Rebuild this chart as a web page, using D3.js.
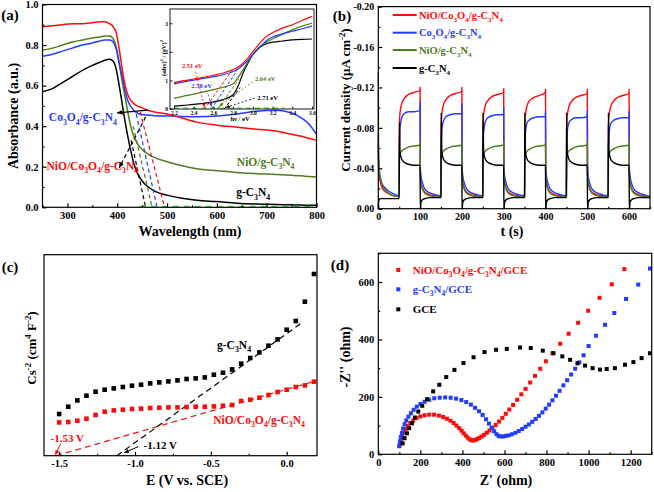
<!DOCTYPE html>
<html><head><meta charset="utf-8">
<script src="https://cdn.jsdelivr.net/npm/d3@7"></script>
<style>body{margin:0;background:#fff}svg{display:block}</style>
</head><body><script>
// ---------- DATA ----------
// (a) UV-vis absorbance
const absWavelength = [250,270,290,310,330,350,365,375,385,392,398,404,410,416,422,428,434,440,450,460,475,500,530,560,600,640,680,720,750,770,785,800];
const absRed   = [0.89,0.895,0.90,0.905,0.905,0.91,0.915,0.915,0.905,0.89,0.86,0.78,0.68,0.60,0.55,0.525,0.51,0.50,0.49,0.48,0.47,0.46,0.44,0.42,0.405,0.395,0.385,0.375,0.36,0.35,0.34,0.33];
const absBlue  = [0.745,0.755,0.77,0.785,0.80,0.81,0.82,0.825,0.825,0.815,0.78,0.71,0.64,0.57,0.52,0.495,0.475,0.465,0.458,0.455,0.452,0.45,0.448,0.447,0.45,0.46,0.474,0.478,0.465,0.44,0.41,0.36];
const absGreen = [0.775,0.785,0.80,0.815,0.825,0.835,0.84,0.845,0.845,0.83,0.79,0.71,0.62,0.54,0.46,0.39,0.345,0.315,0.285,0.265,0.245,0.225,0.205,0.19,0.18,0.172,0.166,0.162,0.158,0.155,0.152,0.15];
const absBlack = [0.57,0.585,0.615,0.645,0.675,0.70,0.715,0.725,0.73,0.72,0.68,0.60,0.51,0.42,0.34,0.27,0.21,0.17,0.13,0.105,0.08,0.06,0.045,0.035,0.028,0.02,0.016,0.014,0.012,0.011,0.01,0.01];
const absTangents = [[[446,0.47],[495,0]],[[438,0.46],[480,0]],[[432,0.40],[470,0]],[[428,0.33],[457,0]]];
const absXTicks = [300,400,500,600,700,800];
const absXMinor = [250,350,450,550,650,750];
const absYTicks = [0,0.2,0.4,0.6,0.8,1.0];
const absYMinor = [0.1,0.3,0.5,0.7,0.9];
// inset Tauc plot
const tauEnergy = [2.2,2.3,2.4,2.5,2.6,2.7,2.8,2.85,2.9,2.95,3.0,3.05,3.1,3.15,3.2,3.3,3.4,3.5,3.6];
const tauRed   = [0.92,0.99,1.05,1.11,1.18,1.26,1.38,1.47,1.6,1.78,2.01,2.22,2.42,2.57,2.67,2.83,2.95,3.1,3.24];
const tauBlue  = [0.88,0.95,1.01,1.07,1.13,1.2,1.31,1.4,1.54,1.7,1.9,2.1,2.27,2.42,2.52,2.63,2.72,2.81,2.9];
const tauGreen = [0.37,0.45,0.52,0.6,0.68,0.76,0.88,1.1,1.37,1.65,1.9,2.1,2.25,2.36,2.45,2.62,2.77,2.9,3.0];
const tauBlack = [0.1,0.13,0.16,0.2,0.25,0.33,0.5,0.8,1.25,1.6,1.9,2.1,2.22,2.3,2.34,2.38,2.42,2.44,2.45];
const bandGaps = [2.51,2.58,2.64,2.71];
const tauTangentTop = [[2.80,1.40],[2.84,1.35],[2.86,1.05],[2.87,0.75]];
const tauXTicks = [2.2,2.4,2.6,2.8,3.0,3.2,3.4,3.6];
const tauYTicks = [0,1,2,3];

// (b) photocurrent
const tSeg0 = [0,0.5,2,5,10,20,35,49.7];
const tCycles = [
 [50,50.5,52,56,62,72,85,99.5,100,100.5,102,106,112,122,135,149.7],
 [150,150.5,152,156,162,172,185,199.5,200,200.5,202,206,212,222,235,249.7],
 [250,250.5,252,256,262,272,285,299.5,300,300.5,302,306,312,322,335,349.7],
 [350,350.5,352,356,362,372,385,399.5,400,400.5,402,406,412,422,435,449.7],
 [450,450.5,452,456,462,472,485,499.5,500,500.5,502,506,512,522,535,549.7],
 [550,550.5,552,556,562,572,585,599.5,600,600.5,602,606,612,622,635,650]];
const jRed = [
 [-0.065,-0.045,-0.034,-0.026,-0.020,-0.016,-0.013,-0.012],
 [-0.012,-0.085,-0.095,-0.104,-0.109,-0.113,-0.115,-0.117,-0.120,-0.036,-0.027,-0.020,-0.016,-0.014,-0.013,-0.012],
 [-0.012,-0.084,-0.094,-0.103,-0.108,-0.112,-0.114,-0.116,-0.120,-0.036,-0.027,-0.020,-0.016,-0.014,-0.013,-0.012],
 [-0.012,-0.083,-0.093,-0.102,-0.107,-0.111,-0.113,-0.115,-0.119,-0.036,-0.027,-0.020,-0.016,-0.014,-0.013,-0.012],
 [-0.012,-0.083,-0.093,-0.102,-0.107,-0.110,-0.112,-0.115,-0.118,-0.036,-0.027,-0.020,-0.016,-0.014,-0.013,-0.012],
 [-0.012,-0.082,-0.092,-0.101,-0.106,-0.110,-0.112,-0.114,-0.118,-0.036,-0.027,-0.020,-0.016,-0.014,-0.013,-0.012],
 [-0.012,-0.082,-0.092,-0.101,-0.106,-0.110,-0.112,-0.114,-0.118,-0.036,-0.027,-0.020,-0.016,-0.014,-0.013,-0.012]];
const jBlue = [
 [-0.075,-0.050,-0.038,-0.030,-0.024,-0.019,-0.015,-0.013],
 [-0.013,-0.062,-0.080,-0.090,-0.094,-0.096,-0.096,-0.097,-0.106,-0.042,-0.033,-0.025,-0.019,-0.016,-0.014,-0.013],
 [-0.013,-0.060,-0.078,-0.087,-0.091,-0.093,-0.094,-0.094,-0.104,-0.042,-0.033,-0.025,-0.019,-0.016,-0.014,-0.013],
 [-0.013,-0.058,-0.076,-0.086,-0.090,-0.092,-0.093,-0.093,-0.100,-0.042,-0.033,-0.025,-0.019,-0.016,-0.014,-0.013],
 [-0.013,-0.057,-0.075,-0.085,-0.088,-0.090,-0.091,-0.091,-0.096,-0.042,-0.033,-0.025,-0.019,-0.016,-0.014,-0.013],
 [-0.013,-0.057,-0.075,-0.085,-0.088,-0.090,-0.090,-0.091,-0.097,-0.042,-0.033,-0.025,-0.019,-0.016,-0.014,-0.013],
 [-0.013,-0.056,-0.074,-0.084,-0.087,-0.089,-0.090,-0.090,-0.096,-0.042,-0.033,-0.025,-0.019,-0.016,-0.014,-0.012]];
const jGreen = [
 [-0.135,-0.060,-0.042,-0.031,-0.023,-0.017,-0.013,-0.012],
 [-0.012,-0.050,-0.054,-0.057,-0.059,-0.061,-0.062,-0.063,-0.066,-0.034,-0.026,-0.019,-0.015,-0.013,-0.012,-0.012],
 [-0.012,-0.050,-0.054,-0.057,-0.059,-0.061,-0.062,-0.063,-0.066,-0.034,-0.026,-0.019,-0.015,-0.013,-0.012,-0.012],
 [-0.012,-0.050,-0.054,-0.057,-0.059,-0.061,-0.062,-0.063,-0.066,-0.034,-0.026,-0.019,-0.015,-0.013,-0.012,-0.012],
 [-0.012,-0.050,-0.054,-0.057,-0.059,-0.061,-0.062,-0.063,-0.066,-0.034,-0.026,-0.019,-0.015,-0.013,-0.012,-0.012],
 [-0.012,-0.050,-0.054,-0.057,-0.059,-0.061,-0.062,-0.063,-0.066,-0.034,-0.026,-0.019,-0.015,-0.013,-0.012,-0.012],
 [-0.012,-0.050,-0.054,-0.057,-0.059,-0.061,-0.062,-0.063,-0.066,-0.034,-0.026,-0.019,-0.015,-0.013,-0.012,-0.012]];
const jBlack = [
 [0.000,-0.006,-0.009,-0.010,-0.010,-0.010,-0.010,-0.010],
 [-0.010,-0.085,-0.055,-0.049,-0.046,-0.044,-0.043,-0.043,-0.043,0.000,-0.006,-0.009,-0.010,-0.011,-0.011,-0.011],
 [-0.011,-0.095,-0.056,-0.049,-0.046,-0.044,-0.043,-0.043,-0.043,0.000,-0.006,-0.009,-0.010,-0.011,-0.011,-0.011],
 [-0.011,-0.095,-0.056,-0.049,-0.046,-0.044,-0.043,-0.043,-0.043,0.000,-0.006,-0.009,-0.010,-0.011,-0.011,-0.011],
 [-0.011,-0.095,-0.056,-0.049,-0.046,-0.044,-0.043,-0.043,-0.043,0.000,-0.006,-0.009,-0.010,-0.011,-0.011,-0.011],
 [-0.011,-0.095,-0.056,-0.049,-0.046,-0.044,-0.043,-0.043,-0.043,0.000,-0.006,-0.009,-0.010,-0.011,-0.011,-0.011],
 [-0.011,-0.095,-0.056,-0.049,-0.046,-0.044,-0.043,-0.043,-0.043,0.000,-0.006,-0.009,-0.010,-0.011,-0.011,-0.011]];
const jLabels = ["NiO/Co_{3}O_{4}/g-C_{3}N_{4}","Co_{3}O_{4}/g-C_{3}N_{4}","NiO/g-C_{3}N_{4}","g-C_{3}N_{4}"];
const jXTicks = [0,100,200,300,400,500,600];
const jXMinor = [50,150,250,350,450,550,650];
const jYTicks = [0,-0.04,-0.08,-0.12,-0.16,-0.20];
const jYMinor = [-0.02,-0.06,-0.10,-0.14,-0.18];

// (c) Mott-Schottky
const msPotential = [-1.50,-1.44,-1.38,-1.32,-1.26,-1.20,-1.14,-1.08,-1.02,-0.96,-0.90,-0.84,-0.78,-0.72,-0.66,-0.60,-0.54,-0.48,-0.42,-0.36,-0.30,-0.24,-0.18,-0.12,-0.06,0.00,0.06,0.12,0.18];
const msBlack = [4.17,4.9,5.53,6.0,6.4,6.6,6.73,6.87,7.0,7.1,7.23,7.33,7.43,7.53,7.67,7.73,7.83,8.1,8.3,8.63,9.2,9.77,10.33,11.0,11.63,12.6,13.47,15.4,18.17];
const msRed   = [3.33,3.37,3.5,3.7,4.07,4.4,4.53,4.6,4.67,4.7,4.77,4.8,4.83,4.83,4.87,4.9,4.9,4.93,5.0,5.07,5.47,5.6,5.8,6.07,6.37,6.6,6.87,7.03,7.4];
const msFitBlack = [[-1.12,0],[0.11,13.4]];
const msFitRed   = [[-1.52,0],[0.19,7.47]];
const msXTicks = [-1.5,-1.0,-0.5,0.0];
const msXMinor = [-1.25,-0.75,-0.25];

// (d) Nyquist
const eisRed = [[100,28],[103,40],[108,52],[114,64],[121,76],[130,88],[140,99],[152,109],[166,118],[182,126],[200,132],[220,136],[242,138],[265,138],[288,135],[308,130],[326,124],[343,117],[358,109],[372,100],[385,91],[396,82],[406,73],[416,65],[425,58],[434,52],[443,49],[452,48],[461,50],[470,53],[480,57],[491,62],[503,68],[516,75],[529,83],[543,92],[558,102],[574,114],[590,127],[606,141],[623,156],[641,172],[660,190],[680,209],[700,228],[722,250],[745,273],[770,298],[797,324],[828,352],[865,385],[905,420],[950,458],[998,500],[1052,545],[1110,592],[1170,645]];
const eisBlue = [[100,30],[103,45],[107,60],[112,75],[118,90],[125,105],[133,118],[143,131],[155,143],[168,155],[183,166],[200,175],[220,183],[242,190],[266,195],[292,197],[318,198],[344,197],[370,194],[395,189],[418,182],[440,173],[460,162],[479,150],[496,137],[512,122],[526,107],[539,93],[551,80],[562,70],[572,64],[582,62],[594,62],[606,64],[620,66],[636,70],[652,75],[668,81],[684,88],[700,96],[716,104],[732,113],[748,123],[764,134],[780,146],[796,159],[812,173],[828,188],[845,204],[862,221],[880,240],[898,258],[917,278],[936,298],[956,320],[976,345],[1000,377],[1035,413],[1078,451],[1122,492],[1178,541],[1236,591],[1292,647]];
const eisBlack = [[116,38],[125,56],[136,73],[147,91],[160,108],[174,128],[190,149],[209,169],[232,192],[261,219],[290,242],[323,269],[362,294],[405,318],[453,338],[505,356],[560,364],[611,367],[674,372],[725,370],[782,361],[833,352],[875,341],[912,329],[947,317],[983,309],[1019,300],[1054,295],[1086,297],[1125,300],[1173,312],[1213,321],[1252,335],[1292,352]];
const eisLabels = ["NiO/Co_{3}O_{4}/g-C_{3}N_{4}/GCE","g-C_{3}N_{4}/GCE","GCE"];
const eisXTicks = [0,200,400,600,800,1000,1200];
const eisXMinor = [100,300,500,700,900,1100,1300];
const eisYTicks = [0,200,400,600];
const eisYMinor = [100,300,500,700];

// ---------- DRAWING ----------
const FONT = '"Liberation Serif","Times New Roman",Times,serif';
const RED='#ff0a0a', BLUE='#1f3cff', GREEN='#4e7d1c', BLACK='#000000', LGREEN='#33e633';
const svg = d3.select('body').append('svg').attr('width',654).attr('height',492)
  .style('font-family',FONT).style('font-weight','bold');
const defs = svg.append('defs');
function marker(id,color){
  defs.append('marker').attr('id',id).attr('viewBox','0 0 10 10').attr('refX',9).attr('refY',5)
   .attr('markerWidth',5).attr('markerHeight',5).attr('orient','auto')
   .append('path').attr('d','M0,1L10,5L0,9z').attr('fill',color);
}
marker('arrK',BLACK); marker('arrR',RED); marker('arrB',BLUE); marker('arrG',GREEN);

function rich(t,str,s){
  let cur=0;
  str.split(/([_^]\{[^}]*\})/).forEach(p=>{
    if(!p) return;
    const m=p.match(/^([_^])\{([^}]*)\}$/);
    const target = m ? (m[1]==='_'? 0.3*s : -0.42*s) : 0;
    t.append('tspan').attr('dy',target-cur).style('font-size',(m?0.68*s:s)+'px').text(m?m[2]:p);
    cur=target;
  });
  return t;
}
function label(g,x,y,str,s,color,anchor,rot){
  const t=g.append('text').attr('text-anchor',anchor||'middle').attr('fill',color||BLACK)
    .attr('transform',`translate(${x},${y})`+(rot?' rotate(-90)':'')).style('font-size',s+'px');
  return rich(t,str,s);
}
function axes(g,x,y,o){
  const [x0,x1]=x.range(), [y0,y1]=y.range();
  const sw=o.sw||1.2;
  function mk(axis,tr){
    const a=g.append('g').attr('transform',tr).call(axis);
    a.select('.domain').remove();
    a.attr('font-family',FONT).attr('font-size',o.fs).attr('font-weight','bold');
    a.selectAll('line').attr('stroke-width',sw);
    return a;
  }
  if(o.xMinor) mk(d3.axisBottom(x).tickValues(o.xMinor).tickSize(-o.tl/2).tickFormat(''),`translate(0,${y0})`);
  if(o.xTicks) mk(d3.axisBottom(x).tickValues(o.xTicks).tickSize(-o.tl).tickPadding(o.pad).tickFormat(o.xFmt),`translate(0,${y0})`);
  if(o.yMinor) mk(d3.axisLeft(y).tickValues(o.yMinor).tickSize(-o.tl/2).tickFormat(''),`translate(${x0},0)`);
  if(o.yTicks) mk(d3.axisLeft(y).tickValues(o.yTicks).tickSize(-o.tl).tickPadding(o.pad).tickFormat(o.yFmt),`translate(${x0},0)`);
  g.append('rect').attr('x',x0).attr('y',y1).attr('width',x1-x0).attr('height',y0-y1)
   .attr('fill','none').attr('stroke','#000').attr('stroke-width',sw);
}
function seg(g,x,y,pts,color,w,dash,mk){
  const p=g.append('line').attr('x1',x(pts[0][0])).attr('y1',y(pts[0][1])).attr('x2',x(pts[1][0])).attr('y2',y(pts[1][1]))
    .attr('stroke',color).attr('stroke-width',w).attr('stroke-dasharray',dash||null);
  if(mk) p.attr('marker-end',`url(#${mk})`);
  return p;
}

// ===== (a) =====
{
 const g=svg.append('g');
 const x=d3.scaleLinear().domain([250,800]).range([42.5,316.5]);
 const y=d3.scaleLinear().domain([0,1]).range([207.3,4.5]);
 const line=d3.line().x((d,i)=>x(absWavelength[i])).y(d=>y(d)).curve(d3.curveMonotoneX);
 [[absBlack,BLACK],[absGreen,GREEN],[absBlue,BLUE],[absRed,RED]].forEach(([s,c])=>{
   g.append('path').attr('d',line(s)).attr('fill','none').attr('stroke',c).attr('stroke-width',1.5);
 });
 const tc=[RED,BLUE,GREEN,BLACK];
 absTangents.forEach((p,i)=>seg(g,x,y,p,tc[i],1.2,'4,3'));
 seg(g,x,y,[[445,0.004],[798,0.004]],LGREEN,1.5,'6,5');
 label(g,x(331),y(0.425),"Co_{3}O_{4}/g-C_{3}N_{4}",11.5,BLUE);
 label(g,x(350),y(0.185),"NiO/Co_{3}O_{4}/g-C_{3}N_{4}",11.5,RED);
 label(g,x(698),y(0.205),"NiO/g-C_{3}N_{4}",11.5,GREEN);
 label(g,x(673),y(0.055),"g-C_{3}N_{4}",11.5,BLACK);
 seg(g,x,y,[[461,0.479],[400,0.466]],BLACK,1.2,null,'arrK');
 seg(g,x,y,[[457,0.445],[404,0.195]],BLACK,1.2,'4,3','arrK');
 axes(g,x,y,{xTicks:absXTicks,xMinor:absXMinor,yTicks:absYTicks,yMinor:absYMinor,tl:4,pad:4,fs:10.5,
   xFmt:d3.format('d'),yFmt:d3.format('.1f')});
 label(g,190,236,"Wavelength (nm)",14,BLACK);
 label(g,18,116,"Absorbance (a.u.)",14,BLACK,'middle',true);
 label(g,10,20,"(a)",15,BLACK);

 // inset
 const ig=svg.append('g');
 const ix=d3.scaleLinear().domain([2.16,3.62]).range([170,314]);
 const iy=d3.scaleLinear().domain([0,3.5]).range([109,9]);
 ig.append('rect').attr('x',170).attr('y',9).attr('width',144).attr('height',100).attr('fill','#fff');
 const il=d3.line().x((d,i)=>ix(tauEnergy[i])).y(d=>iy(d)).curve(d3.curveMonotoneX);
 [[tauBlack,BLACK],[tauGreen,GREEN],[tauBlue,BLUE],[tauRed,RED]].forEach(([s,c])=>{
   ig.append('path').attr('d',il(s)).attr('fill','none').attr('stroke',c).attr('stroke-width',1.2);
 });
 bandGaps.forEach((e,i)=>seg(ig,ix,iy,[[e,0],tauTangentTop[i]],tc[i],1,'3,2'));
 seg(ig,ix,iy,[[2.2,0.03],[3.32,0.03]],LGREEN,1.3,'5,4');
 label(ig,ix(2.385),iy(1.45),"2.51 eV",6.5,RED);
 label(ig,ix(2.48),iy(0.72),"2.58 eV",6.5,BLUE);
 label(ig,ix(3.125),iy(0.97),"2.64 eV",6.5,GREEN);
 label(ig,ix(3.15),iy(0.31),"2.71 eV",6.5,BLACK);
 seg(ig,ix,iy,[[2.42,1.3],[2.51,0.06]],RED,0.8,'2,2','arrR');
 seg(ig,ix,iy,[[2.55,0.5],[2.58,0.08]],BLUE,0.8,'2,2','arrB');
 seg(ig,ix,iy,[[3.0,0.95],[2.66,0.1]],GREEN,0.8,'2,2','arrG');
 seg(ig,ix,iy,[[3.02,0.38],[2.73,0.06]],BLACK,0.8,'2,2','arrK');
 axes(ig,ix,iy,{xTicks:tauXTicks,yTicks:tauYTicks,tl:2.5,pad:2,fs:5.5,sw:0.9,
   xFmt:d3.format('.1f'),yFmt:d3.format('d')});
 label(ig,240,121,"hν / eV",6.5,BLACK);
 label(ig,166,58,"(αhν)^{2} / (eV)^{2}",6.5,BLACK,'middle',true);
}

// ===== (b) =====
{
 const g=svg.append('g');
 const x=d3.scaleLinear().domain([0,650]).range([378.3,650]);
 const y=d3.scaleLinear().domain([0,-0.2]).range([208.7,6.6]);
 const tAll=tSeg0.concat(...tCycles);
 const line=d3.line().x((d,i)=>x(tAll[i])).y(d=>y(d)).curve(d3.curveMonotoneX);
 [[jRed,RED],[jBlue,BLUE],[jGreen,GREEN],[jBlack,BLACK]].forEach(([s,c])=>{
   g.append('path').attr('d',line([].concat(...s))).attr('fill','none').attr('stroke',c).attr('stroke-width',1.4);
 });
 const fmt=d=>d===0?'0.00':'-'+Math.abs(d).toFixed(2);
 axes(g,x,y,{xTicks:jXTicks,xMinor:jXMinor,yTicks:jYTicks,yMinor:jYMinor,tl:4,pad:4,fs:10,
   xFmt:d3.format('d'),yFmt:fmt});
 const lc=[RED,BLUE,GREEN,BLACK], ly=[15,32.7,50,68];
 jLabels.forEach((s,i)=>{
   g.append('line').attr('x1',392.7).attr('x2',416.7).attr('y1',ly[i]).attr('y2',ly[i]).attr('stroke',lc[i]).attr('stroke-width',2);
   label(g,419,ly[i]+3.5,s,10.5,lc[i],'start');
 });
 label(g,512,236,"t (s)",14,BLACK);
 label(g,350,100,"Current density (μA cm^{-2})",13,BLACK,'middle',true);
 label(g,342,21,"(b)",15,BLACK);
}

// ===== (c) =====
{
 const g=svg.append('g');
 const x=d3.scaleLinear().domain([-1.6,0.2]).range([44,317]);
 const y=d3.scaleLinear().domain([0,20.1]).range([455.7,254.7]);
 seg(g,x,y,msFitRed,RED,1.2,'6,4');
 seg(g,x,y,msFitBlack,BLACK,1.2,'6,4');
 const sq=4.6;
 [[msBlack,BLACK],[msRed,RED]].forEach(([s,c])=>{
   g.selectAll(null).data(s).enter().append('rect')
    .attr('x',(d,i)=>x(msPotential[i])-sq/2).attr('y',d=>y(d)-sq/2).attr('width',sq).attr('height',sq).attr('fill',c);
 });
 axes(g,x,y,{xTicks:msXTicks,xMinor:msXMinor,tl:4,pad:4,fs:10.5,xFmt:d=>d===0?'0.0':(d<0?'-':'')+Math.abs(d).toFixed(1)});
 label(g,x(-0.347),y(11.07)+4,"g-C_{3}N_{4}",11.5,BLACK);
 label(g,x(-0.182),y(3.57)+4,"NiO/Co_{3}O_{4}/g-C_{3}N_{4}",11.5,RED);
 label(g,x(-1.447),y(1.77)+4,"-1.53 V",11,RED);
 label(g,x(-0.834),y(1.07)+4,"-1.12 V",11,BLACK);
 seg(g,x,y,[[-1.49,1.2],[-1.525,0.1]],RED,1,null,'arrR');
 seg(g,x,y,[[-0.98,0.9],[-1.07,0.3]],BLACK,1,null,'arrK');
 label(g,187,485,"E  (V vs. SCE)",14,BLACK);
 label(g,36,348,"Cs^{-2} (cm^{4} F^{-2})",13,BLACK,'middle',true);
 label(g,10,272,"(c)",15,BLACK);
}

// ===== (d) =====
{
 const g=svg.append('g');
 const x=d3.scaleLinear().domain([0,1300]).range([378.3,651.7]);
 const y=d3.scaleLinear().domain([0,700]).range([454.3,253.3]);
 const sq=4;
 [[eisRed,RED],[eisBlue,BLUE],[eisBlack,BLACK]].forEach(([s,c])=>{
   g.selectAll(null).data(s).enter().append('rect')
    .attr('x',d=>x(d[0])-sq/2).attr('y',d=>y(d[1])-sq/2).attr('width',sq).attr('height',sq).attr('fill',c);
 });
 axes(g,x,y,{xTicks:eisXTicks,xMinor:eisXMinor,yTicks:eisYTicks,yMinor:eisYMinor,tl:4,pad:4,fs:10.5,
   xFmt:d3.format('d'),yFmt:d3.format('d')});
 const lc=[RED,BLUE,BLACK], ly=[270,289.3,309.3];
 eisLabels.forEach((s,i)=>{
   g.append('rect').attr('x',398.3-2).attr('y',ly[i]-2).attr('width',4).attr('height',4).attr('fill',lc[i]);
   label(g,412.7,ly[i]+3.5,s,11,lc[i],'start');
 });
 label(g,506,485,"Z' (ohm)",14,BLACK);
 label(g,350,357,"-Z'' (ohm)",14,BLACK,'middle',true);
 label(g,340,270,"(d)",15,BLACK);
}
</script></body></html>
